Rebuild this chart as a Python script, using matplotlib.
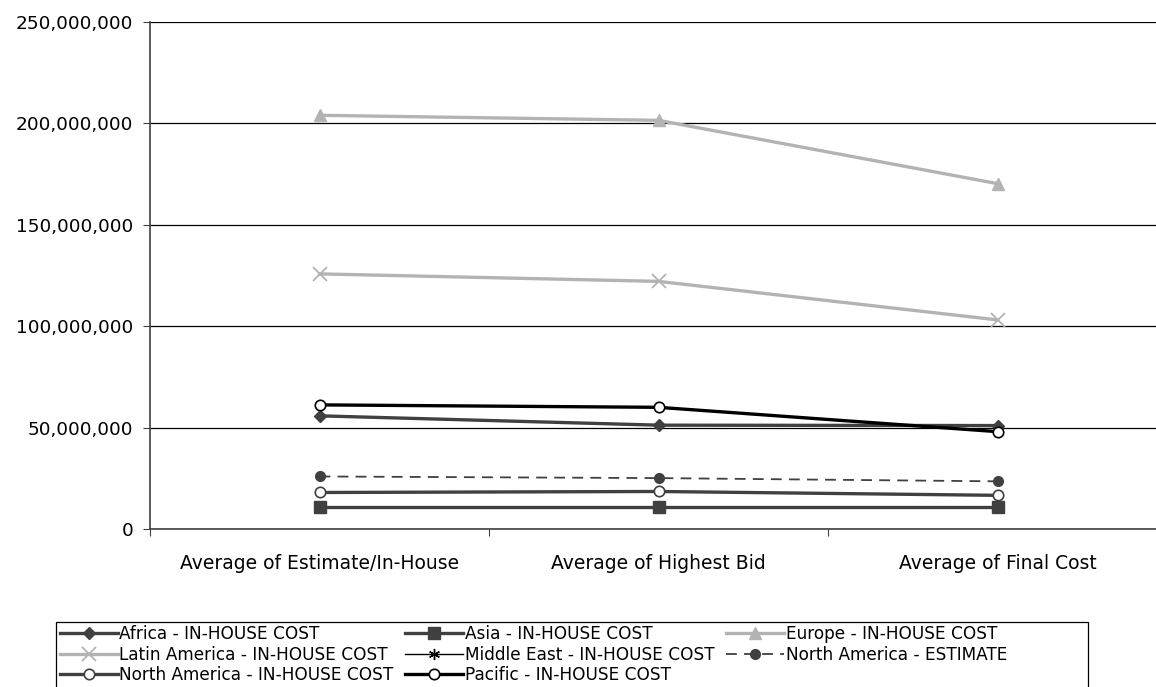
import matplotlib
matplotlib.use("Agg")
import matplotlib.pyplot as plt
from matplotlib.patches import Rectangle
from matplotlib.ticker import FuncFormatter, FixedLocator

# ---------------------------------------------------------------- data
categories = ["Average of Estimate/In-House", "Average of Highest Bid", "Average of Final Cost"]

africa_inhouse = [55.8e6, 51.2e6, 51.0e6]
asia_inhouse = [11.0e6, 11.0e6, 11.0e6]
europe_inhouse = [204.0e6, 201.5e6, 170.3e6]
latam_inhouse = [125.8e6, 122.1e6, 103.1e6]
mideast_inhouse = [float("nan")] * 3      # no visible values in the chart
na_estimate = [25.9e6, 25.1e6, 23.5e6]
na_inhouse = [18.0e6, 18.5e6, 16.6e6]
pacific_inhouse = [61.2e6, 60.0e6, 48.0e6]

y_ticks = [0, 50e6, 100e6, 150e6, 200e6, 250e6]

DARK = "#404040"
LIGHT = "#b3b3b3"

plt.rcParams.update({"font.family": "DejaVu Sans"})

fig = plt.figure(figsize=(11.56, 6.87), dpi=100)
# plot area runs a little past the right edge of the picture, as in the original
ax = fig.add_axes([150 / 1156, 1 - 529 / 687, 1017 / 1156, 507 / 687])

x = [0.5, 1.5, 2.5]
series = {
    "africa": (africa_inhouse, "Africa - IN-HOUSE COST", dict(color=DARK, marker="D", ms=6, lw=2.4)),
    "asia": (asia_inhouse, "Asia - IN-HOUSE COST", dict(color=DARK, marker="s", ms=8, lw=2.4)),
    "europe": (europe_inhouse, "Europe - IN-HOUSE COST", dict(color=LIGHT, marker="^", ms=9, lw=2.4)),
    "latam": (latam_inhouse, "Latin America - IN-HOUSE COST", dict(color=LIGHT, marker="x", ms=10, mew=1.3, lw=2.4)),
    "mideast": (mideast_inhouse, "Middle East - IN-HOUSE COST", dict(color="black", marker=(6, 2, 0), ms=8, mew=1.0, lw=1.0)),
    "na_est": (na_estimate, "North America - ESTIMATE", dict(color=DARK, marker="o", ms=7, lw=1.3, ls=(0, (6, 4)))),
    "na_in": (na_inhouse, "North America - IN-HOUSE COST", dict(color=DARK, marker="o", ms=7.5, mfc="white", mec=DARK, mew=1.2, lw=2.4)),
    "pacific": (pacific_inhouse, "Pacific - IN-HOUSE COST", dict(color="black", marker="o", ms=7.5, mfc="white", mec="black", mew=1.2, lw=2.4)),
}
handles = {}
for key, (vals, name, style) in series.items():
    handles[key], = ax.plot(x, vals, label=name, zorder=3, **style)

ax.set_xlim(0, 3)
ax.set_ylim(0, 250e6)
ax.yaxis.set_major_locator(FixedLocator(y_ticks))
ax.yaxis.set_major_formatter(FuncFormatter(lambda v, _: f"{v:,.0f}"))
ax.grid(axis="y", color="black", lw=0.9, zorder=0)

# category boundary ticks + labels in between
ax.set_xticks([0, 1, 2, 3])
ax.set_xticklabels([])
ax.set_xticks(x, minor=True)
ax.set_xticklabels(categories, minor=True)
ax.tick_params(axis="x", which="major", length=5, direction="out", color=DARK)
ax.tick_params(axis="x", which="minor", length=0, pad=18, labelsize=13.5)
ax.tick_params(axis="y", length=5, direction="out", pad=7, labelsize=13.3, color=DARK)

for s in ("top", "right"):
    ax.spines[s].set_visible(False)
for s in ("left", "bottom"):
    ax.spines[s].set_color(DARK)
    ax.spines[s].set_linewidth(1.2)

# legend filled row by row like the original (matplotlib fills by column)
order = ["africa", "latam", "na_in", "asia", "mideast", "pacific", "europe", "na_est"]
leg = fig.legend([handles[k] for k in order], [series[k][1] for k in order],
                 loc="upper left", bbox_to_anchor=(60 / 1156, 1 - 625 / 687), ncol=3,
                 fontsize=12.2, frameon=False, handlelength=3.4, handletextpad=0.1,
                 columnspacing=0.7, labelspacing=0.16, borderpad=0, borderaxespad=0)
fig.patches.append(Rectangle((56 / 1156, -0.01), (1088 - 56) / 1156, 0.01 + 65 / 687,
                             transform=fig.transFigure, fill=False, ec="black", lw=0.9))

fig.savefig("out.png", dpi=100)
